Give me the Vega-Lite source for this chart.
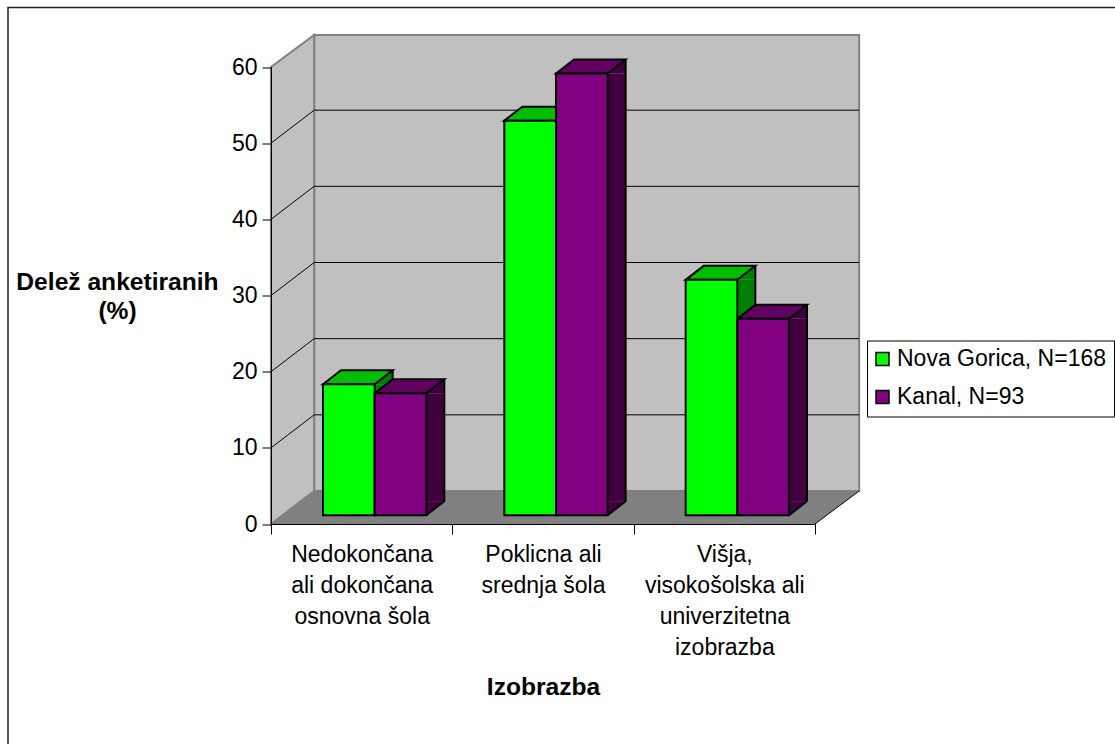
{
"$schema":"https://vega.github.io/schema/vega-lite/v6.json",
"width":1110,"height":740,
"autosize":{"type":"none"},
"padding":{"left":8,"top":7.5,"right":-3,"bottom":-3.5},
"background":"white",
"view":{"stroke":"#222222","strokeWidth":1.5,"fill":"white"},
"config":{"font":"Liberation Sans"},
"data":{"values":[
{"category":"Nedokončana\nali dokončana\nosnovna šola","series":"Nova Gorica, N=168","value":17.2},
{"category":"Nedokončana\nali dokončana\nosnovna šola","series":"Kanal, N=93","value":16.0},
{"category":"Poklicna ali\nsrednja šola","series":"Nova Gorica, N=168","value":51.8},
{"category":"Poklicna ali\nsrednja šola","series":"Kanal, N=93","value":58.0},
{"category":"Višja,\nvisokošolska ali\nuniverzitetna\nizobrazba","series":"Nova Gorica, N=168","value":30.9},
{"category":"Višja,\nvisokošolska ali\nuniverzitetna\nizobrazba","series":"Kanal, N=93","value":25.8}
]},
"encoding":{
 "x":{"field":"category","type":"nominal","sort":null,
  "scale":{"domain":["Nedokončana\nali dokončana\nosnovna šola","Poklicna ali\nsrednja šola","Višja,\nvisokošolska ali\nuniverzitetna\nizobrazba"],"range":[263,807],"paddingInner":0,"paddingOuter":0},
  "axis":{"title":"Izobrazba","titleFontSize":24.6,"titleFontWeight":"bold","titleColor":"#000","titleX":535,"titleY":170,"titleAlign":"center","titleBaseline":"alphabetic","titleAnchor":null,
   "offset":-223.5,"zindex":1,"tickBand":"extent","tickSize":10,"tickColor":"#000","domainColor":"#000","labelAngle":0,"labelColor":"#000","labelFontSize":23,"labelBaseline":"top","labelPadding":9,"labelLimit":1000,"labelOverlap":false,"labelLineHeight":31,"labelExpr":"split(datum.label, '\\n')"}},
 "y":{"field":"value","type":"quantitative",
  "scale":{"domain":[0,60],"range":[516.5,59.5],"nice":false,"zero":true},
  "axis":{"title":["Delež anketiranih","(%)"],"titleFontSize":24.6,"titleFontWeight":"bold","titleColor":"#000","titleAngle":0,"titleX":-154,"titleY":281.5,"titleAlign":"center","titleBaseline":"alphabetic","titleLineHeight":29,"titleAnchor":null,
   "offset":-263,"zindex":1,"values":[0,10,20,30,40,50,60],"grid":false,"tickSize":9,"tickColor":"#000","domainColor":"#000","labelColor":"#000","labelFontSize":23,"labelPadding":5}}
},
"layer":[
 {"data":{"values":[{"category":"Nedokončana\nali dokončana\nosnovna šola","value":0}]},
  "layer":[
   {"mark":{"type":"point","filled":true,"opacity":1,"size":4,"fill":"#C0C0C0","stroke":"#808080","strokeWidth":2,"shape":"M-47.5,-33L-47.5,-489L497.5,-489L497.5,-33Z"}},
   {"mark":{"type":"point","filled":true,"opacity":1,"size":4,"fill":"#C0C0C0","stroke":"#808080","strokeWidth":2,"shape":"M-90.67,0L-90.67,-457L-47.5,-489L-47.5,-33Z"}},
   {"mark":{"type":"point","filled":true,"opacity":1,"size":4,"fill":"#808080","stroke":"#808080","strokeWidth":0,"shape":"M-90.67,0L-47.5,-33L497.5,-33L453.33,0Z"}},
   {"mark":{"type":"point","filled":false,"opacity":1,"size":4,"stroke":"#000","strokeWidth":1,"shape":"M453.33,0L497.5,-33"}}
  ]},
 {"data":{"values":[
   {"category":"Nedokončana\nali dokončana\nosnovna šola","value":10},
   {"category":"Nedokončana\nali dokončana\nosnovna šola","value":20},
   {"category":"Nedokončana\nali dokončana\nosnovna šola","value":30},
   {"category":"Nedokončana\nali dokončana\nosnovna šola","value":40},
   {"category":"Nedokončana\nali dokončana\nosnovna šola","value":50}]},
  "mark":{"type":"point","filled":false,"opacity":1,"size":4,"stroke":"#000","strokeWidth":1,"shape":"M-90.67,0L-47.5,-33L497.5,-33"}},
 {"encoding":{"xOffset":{"field":"series","type":"nominal","scale":{"type":"band","domain":["Nova Gorica, N=168","Kanal, N=93"],"paddingInner":0,"paddingOuter":0.755,"range":[13,194.33]}}},
  "resolve":{"scale":{"fill":"independent","xOffset":"independent"},"legend":{"fill":"independent"}},
  "layer":[
   {"mark":{"type":"bar","width":18,"yOffset":-8.8,"y2Offset":-22.8,"strokeWidth":0},"encoding":{"xOffset":{"field":"series","type":"nominal","scale":{"type":"band","domain":["Nova Gorica, N=168","Kanal, N=93"],"paddingInner":0,"paddingOuter":0.755,"range":[47.83,229.16]}},"y":{"field":"value","type":"quantitative","stack":null},"y2":{"datum":0},"fill":{"field":"series","type":"nominal","legend":null,"scale":{"domain":["Nova Gorica, N=168","Kanal, N=93"],"range":["#008000","#400040"]}}}},
   {"mark":{"type":"point","filled":true,"opacity":1,"size":4,"yOffset":-8.8,"strokeWidth":0,"shape":"M25.83,0L43.83,-14L43.83,0Z"},"encoding":{"fill":{"field":"series","type":"nominal","legend":null,"scale":{"domain":["Nova Gorica, N=168","Kanal, N=93"],"range":["#008000","#400040"]}}}},
   {"mark":{"type":"point","filled":true,"opacity":1,"size":4,"yOffset":-8.8,"strokeWidth":0,"shape":"M25.83,0L43.83,-14L25.83,-14Z"},"encoding":{"y":{"datum":0},"fill":{"field":"series","type":"nominal","legend":null,"scale":{"domain":["Nova Gorica, N=168","Kanal, N=93"],"range":["#008000","#400040"]}}}},
   {"mark":{"type":"point","filled":false,"opacity":1,"size":4,"yOffset":-8.8,"stroke":"#000","strokeWidth":2,"shape":"M25.83,0L43.83,-14"},"encoding":{"y":{"datum":0}}},
   {"mark":{"type":"rule","yOffset":-22.8,"y2Offset":-22.8,"stroke":"#000","strokeWidth":2},"encoding":{"xOffset":{"field":"series","type":"nominal","scale":{"type":"band","domain":["Nova Gorica, N=168","Kanal, N=93"],"paddingInner":0,"paddingOuter":0.755,"range":[56.83,238.16]}},"y2":{"datum":0}}},
   {"mark":{"type":"point","filled":true,"opacity":1,"size":4,"yOffset":-8.8,"stroke":"#000","strokeWidth":2,"shape":"M-25.83,0L-7.83,-14L43.83,-14L25.83,0Z"},"encoding":{"fill":{"field":"series","type":"nominal","legend":null,"scale":{"domain":["Nova Gorica, N=168","Kanal, N=93"],"range":["#00BF00","#600060"]}}}},
   {"mark":{"type":"bar","yOffset":-8.8,"y2Offset":-8.8,"stroke":"#000","strokeWidth":2},"encoding":{"y":{"field":"value","type":"quantitative","stack":null},"y2":{"datum":0},"fill":{"field":"series","type":"nominal","scale":{"domain":["Nova Gorica, N=168","Kanal, N=93"],"range":["#00FF00","#800080"]},
     "legend":{"title":null,"orient":"none","legendX":859,"legendY":333,"fillColor":"white","strokeColor":"#000","padding":7,"symbolType":"square","symbolSize":169,"symbolOffset":-3,"symbolStrokeColor":"#000","symbolStrokeWidth":1.5,"labelFontSize":23,"labelColor":"#000","labelLimit":400,"labelOffset":3,"rowPadding":14}}}}
  ]}
]
}
